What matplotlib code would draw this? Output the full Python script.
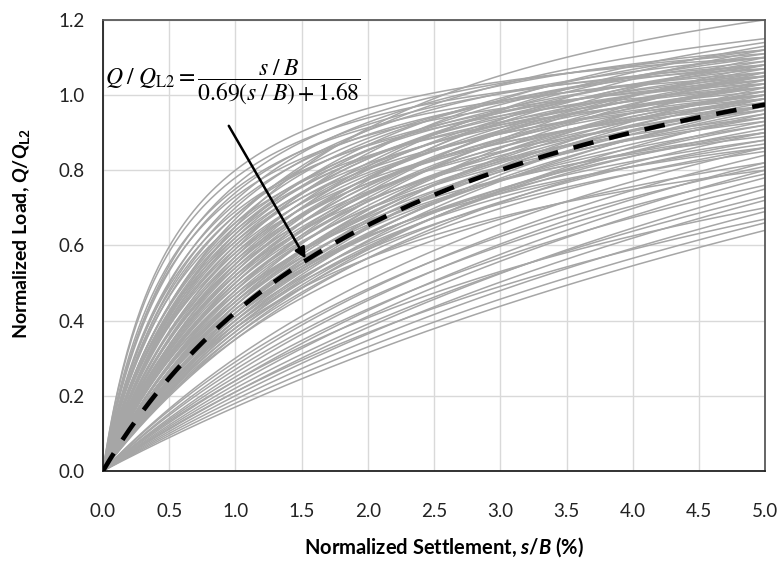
import numpy as np
import matplotlib
matplotlib.use("Agg")
import matplotlib.pyplot as plt

# hyperbolic load-settlement curves, each read off as Q/QL2 at s/B = 1 % and s/B = 5 %
# lower bundle first, then the main band
q_at_1 = [0.17, 0.18, 0.19, 0.20, 0.21, 0.21, 0.22, 0.23, 0.24, 0.24, 0.25, 0.26, 0.27, 0.28, 0.29, 0.30,
          0.35, 0.35, 0.36, 0.36, 0.37, 0.37, 0.38, 0.38, 0.38, 0.39,
          0.39, 0.39, 0.40, 0.40, 0.40, 0.41, 0.41, 0.41, 0.42, 0.42,
          0.42, 0.43, 0.43, 0.43, 0.44, 0.44, 0.44, 0.45, 0.45, 0.45,
          0.46, 0.46, 0.46, 0.47, 0.47, 0.48, 0.48, 0.48, 0.49, 0.49,
          0.50, 0.50, 0.50, 0.51, 0.51, 0.52, 0.52, 0.52, 0.53, 0.53,
          0.54, 0.54, 0.55, 0.55, 0.55, 0.56, 0.56, 0.57, 0.57, 0.58,
          0.58, 0.59, 0.59, 0.60, 0.60, 0.61, 0.61, 0.62, 0.62, 0.63,
          0.63, 0.64, 0.64, 0.65, 0.65, 0.66, 0.66, 0.67, 0.68, 0.68,
          0.69, 0.70, 0.71, 0.72, 0.73, 0.74, 0.75, 0.76, 0.78, 0.80]
q_at_5 = [0.64, 0.66, 0.69, 0.72, 0.67, 0.75, 0.73, 0.78, 0.70, 0.80, 0.76, 0.82, 0.79, 0.84, 0.81, 0.86,
          0.82, 0.90, 0.86, 0.95, 0.88, 0.93, 0.80, 0.97, 0.91, 0.85,
          0.99, 0.92, 0.87, 0.96, 1.02, 0.90, 0.94, 1.00, 0.88, 0.97,
          1.04, 0.92, 0.98, 0.86, 1.01, 0.95, 1.06, 0.90, 0.99, 1.03,
          0.94, 1.08, 0.97, 1.01, 0.89, 1.05, 0.96, 1.10, 0.99, 0.93,
          1.03, 0.97, 1.07, 1.00, 1.12, 0.94, 1.05, 0.99, 1.09, 1.02,
          0.96, 1.06, 1.00, 1.13, 1.04, 0.98, 1.08, 1.02, 1.11, 0.97,
          1.05, 1.00, 1.14, 1.03, 1.08, 0.99, 1.06, 1.10, 1.01, 1.04,
          1.12, 1.02, 1.07, 1.20, 1.05, 1.09, 1.00, 1.15, 1.04, 1.08,
          1.02, 1.10, 1.06, 1.12, 1.03, 1.08, 1.05, 1.11, 1.07, 1.10]

# fitted mean curve from the figure
a_mean = 0.69
b_mean = 1.68

x_ticks = [0.0, 0.5, 1.0, 1.5, 2.0, 2.5, 3.0, 3.5, 4.0, 4.5, 5.0]
y_ticks = [0.0, 0.2, 0.4, 0.6, 0.8, 1.0, 1.2]

plt.rcParams['font.family'] = ['Lato', 'DejaVu Sans']
plt.rcParams['mathtext.fontset'] = 'custom'
plt.rcParams['mathtext.rm'] = 'Lato:bold'
plt.rcParams['mathtext.it'] = 'Lato:bold:italic'
plt.rcParams['mathtext.bf'] = 'Lato:bold'

fig = plt.figure(figsize=(7.8, 5.66), dpi=100)
ax = fig.add_axes([0.132, 0.168, 0.849, 0.797])

s = np.linspace(0, 5, 300)
for q1, q5 in zip(q_at_1, q_at_5):
    a = (5 / q5 - 1 / q1) / 4
    b = 1 / q1 - a
    ax.plot(s, s / (a * s + b), color='#a6a6a6', lw=1.1, zorder=2)

ax.plot(s, s / (a_mean * s + b_mean), color='black', lw=3.3,
        dashes=(4.5, 3.5), zorder=4)

ax.text(0.015, 1.035,
        r'$Q\;/\;Q_{\mathrm{L2}}=\dfrac{s\;/\;B}{0.69\left(s\;/\;B\right)+1.68}$',
        fontsize=17, math_fontfamily='stix', ha='left', va='center', zorder=5)
ax.annotate('', xy=(1.53, 0.565), xytext=(0.95, 0.918),
            arrowprops=dict(arrowstyle='-|>', color='black', lw=1.8,
                            mutation_scale=16, shrinkA=0, shrinkB=0), zorder=5)

ax.set_xlim(0, 5)
ax.set_ylim(0, 1.2)
ax.set_xticks(x_ticks)
ax.set_yticks(y_ticks)
ax.set_xticklabels(['%.1f' % v for v in x_ticks])
ax.set_yticklabels(['%.1f' % v for v in y_ticks])
ax.tick_params(length=0, labelsize=13.5, colors='#222222')
ax.tick_params(axis='x', pad=23)
ax.tick_params(axis='y', pad=13)
ax.grid(True, color='#d9d9d9', lw=1.0, zorder=0)
ax.set_axisbelow(True)
for side in ['left', 'bottom']:
    ax.spines[side].set_color('#222222')
    ax.spines[side].set_linewidth(1.3)
for side in ['top', 'right']:
    ax.spines[side].set_color('#595959')
    ax.spines[side].set_linewidth(1.3)

fig.text(0.569, 0.034, r'Normalized Settlement, $s/B$ (%)', fontsize=14.5,
         fontweight='bold', ha='center', va='center')
fig.text(0.028, 0.588, r'Normalized Load, $Q/Q_{\mathrm{L2}}$', fontsize=14,
         fontweight='bold', ha='center', va='center', rotation=90)

fig.savefig('out.png', dpi=100)
